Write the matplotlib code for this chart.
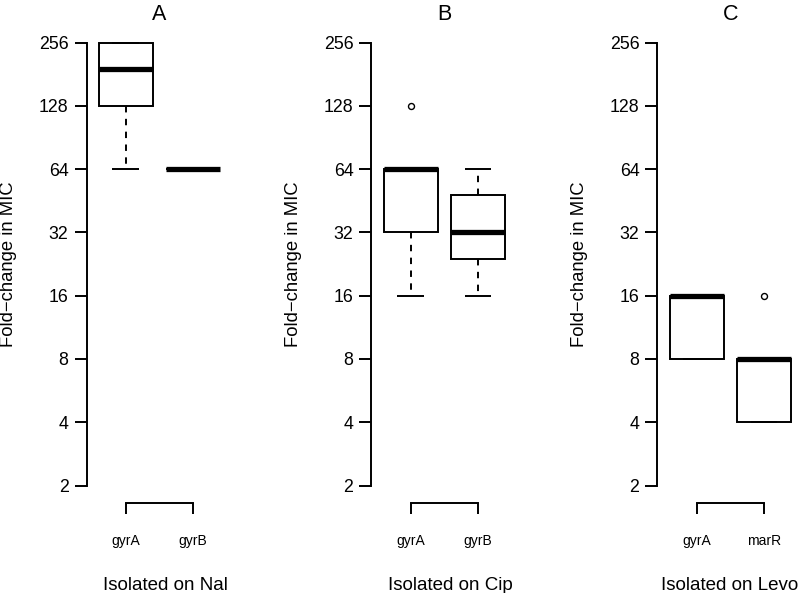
import numpy as np
import matplotlib
matplotlib.use("Agg")
import matplotlib.pyplot as plt
from matplotlib.ticker import FixedLocator, FixedFormatter, NullLocator

# CONSTANTS
FONT_FAMILY = "Liberation Sans"
LINE_COLOR = "black"
LINE_WIDTH = 1.4

plt.rcParams["font.family"] = [FONT_FAMILY, "DejaVu Sans"]

# DATA
panel_titles = ["A", "B", "C"]
panel_xlabels = ["Isolated on Nal", "Isolated on Cip", "Isolated on Levo"]
panel_groups = [["gyrA", "gyrB"], ["gyrA", "gyrB"], ["gyrA", "marR"]]

# box statistics per panel (one value per group)
whisker_low = [[64, 64], [16, 16], [8, 4]]
quartile_low = [[128, 64], [32, 24], [8, 4]]
medians = [[192, 64], [64, 32], [16, 8]]
quartile_high = [[256, 64], [64, 48], [16, 8]]
whisker_high = [[256, 64], [64, 64], [16, 8]]
outliers = [[[], []], [[128], []], [[], [16]]]

y_ticks = [2, 4, 8, 16, 32, 64, 128, 256]

# LAYOUT (figure fractions)
AXES_LEFT = [0.1086, 0.4655, 0.8239]
AXES_BOTTOM = 0.1514
AXES_WIDTH = 0.1825
AXES_HEIGHT = 0.8067
XLABEL_X = [0.538, 0.539, 0.497]

# GRAPH
fig = plt.figure(figsize=(7.98, 5.93), dpi=100)
fig.set_facecolor("white")

for i in range(3):
    ax = fig.add_axes([AXES_LEFT[i], AXES_BOTTOM, AXES_WIDTH, AXES_HEIGHT])

    stats = []
    for j, name in enumerate(panel_groups[i]):
        stats.append(dict(label=name, med=medians[i][j], q1=quartile_low[i][j], q3=quartile_high[i][j],
                          whislo=whisker_low[i][j], whishi=whisker_high[i][j], fliers=outliers[i][j]))

    positions = np.arange(1, len(stats) + 1)
    ax.bxp(stats, positions=positions, widths=0.8, capwidths=0.4, patch_artist=True, showfliers=True,
           boxprops=dict(facecolor="white", edgecolor=LINE_COLOR, linewidth=LINE_WIDTH),
           medianprops=dict(color=LINE_COLOR, linewidth=3.8, solid_capstyle="butt"),
           whiskerprops=dict(color=LINE_COLOR, linewidth=LINE_WIDTH, linestyle=(0, (3.3, 3.3))),
           capprops=dict(color=LINE_COLOR, linewidth=LINE_WIDTH, solid_capstyle="butt"),
           flierprops=dict(marker="o", markersize=4.3, markerfacecolor="none",
                           markeredgecolor=LINE_COLOR, markeredgewidth=1.0))

    # log2 y scale with R-like 4% padding
    ax.set_yscale("log", base=2)
    lo, hi = np.log2(y_ticks[0]), np.log2(y_ticks[-1])
    pad = 0.04 * (hi - lo)
    ax.set_ylim(2 ** (lo - pad), 2 ** (hi + pad))
    ax.yaxis.set_major_locator(FixedLocator(y_ticks))
    ax.yaxis.set_major_formatter(FixedFormatter([str(t) for t in y_ticks]))
    ax.yaxis.set_minor_locator(NullLocator())

    ax.set_xlim(0.5 - 0.04 * len(stats), len(stats) + 0.5 + 0.04 * len(stats))
    ax.set_xticks(positions)
    ax.set_xticklabels(panel_groups[i])

    # spines like R bty="n"
    ax.spines["top"].set_visible(False)
    ax.spines["right"].set_visible(False)
    ax.spines["left"].set_bounds(y_ticks[0], y_ticks[-1])
    ax.spines["bottom"].set_bounds(positions[0], positions[-1])
    ax.spines["left"].set_linewidth(LINE_WIDTH)
    ax.spines["bottom"].set_linewidth(LINE_WIDTH)

    ax.tick_params(axis="y", length=8.5, width=LINE_WIDTH, pad=4.5, labelsize=12.8, colors=LINE_COLOR)
    ax.tick_params(axis="x", length=8, width=LINE_WIDTH, pad=14, labelsize=10, colors=LINE_COLOR)

    ax.set_title(panel_titles[i], fontsize=15.5, pad=3)
    ax.set_ylabel("Fold\u2212change in MIC", fontsize=13.3, va="center")
    ax.yaxis.set_label_coords(-78 / 145.6, 0.5)
    ax.text(XLABEL_X[i], -86.5 / 478.4, panel_xlabels[i], transform=ax.transAxes,
            ha="center", va="baseline", fontsize=13.5)

fig.savefig("out.png", dpi=100)
